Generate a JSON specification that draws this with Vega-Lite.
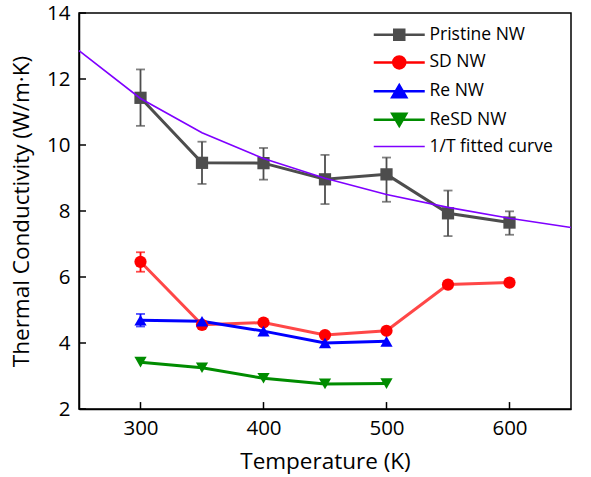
{
  "$schema": "https://vega.github.io/schema/vega-lite/v6.json",
  "width": 492,
  "height": 396,
  "autosize": {"type": "none"},
  "padding": {"left": 79, "top": 13, "right": 20, "bottom": 68},
  "background": "white",
  "config": {
    "font": "Open Sans",
    "view": {"stroke": "#000", "strokeWidth": 1.5},
    "axis": {
      "grid": false,
      "ticks": false,
      "domainColor": "#000",
      "domainWidth": 1.5,
      "labelFont": "Open Sans",
      "labelFontSize": 20.5,
      "labelColor": "#000",
      "titleFont": "Open Sans",
      "titleFontSize": 22.5,
      "titleFontWeight": "normal",
      "titleColor": "#000"
    }
  },
  "datasets": {
    "meas": [
      {"T": 300, "k": 11.43, "lo": 10.58, "hi": 12.29, "series": "Pristine NW"},
      {"T": 350, "k": 9.46, "lo": 8.82, "hi": 10.1, "series": "Pristine NW"},
      {"T": 400, "k": 9.45, "lo": 8.95, "hi": 9.91, "series": "Pristine NW"},
      {"T": 450, "k": 8.96, "lo": 8.21, "hi": 9.7, "series": "Pristine NW"},
      {"T": 500, "k": 9.11, "lo": 8.28, "hi": 9.62, "series": "Pristine NW"},
      {"T": 550, "k": 7.93, "lo": 7.24, "hi": 8.62, "series": "Pristine NW"},
      {"T": 600, "k": 7.65, "lo": 7.28, "hi": 7.99, "series": "Pristine NW"},
      {"T": 300, "k": 6.46, "lo": 6.16, "hi": 6.75, "series": "SD NW"},
      {"T": 350, "k": 4.55, "series": "SD NW"},
      {"T": 400, "k": 4.62, "series": "SD NW"},
      {"T": 450, "k": 4.24, "series": "SD NW"},
      {"T": 500, "k": 4.37, "series": "SD NW"},
      {"T": 550, "k": 5.77, "series": "SD NW"},
      {"T": 600, "k": 5.83, "series": "SD NW"},
      {"T": 300, "k": 4.69, "lo": 4.5, "hi": 4.88, "series": "Re NW"},
      {"T": 350, "k": 4.66, "series": "Re NW"},
      {"T": 400, "k": 4.36, "series": "Re NW"},
      {"T": 450, "k": 4.0, "series": "Re NW"},
      {"T": 500, "k": 4.05, "series": "Re NW"},
      {"T": 300, "k": 3.42, "series": "ReSD NW"},
      {"T": 350, "k": 3.25, "series": "ReSD NW"},
      {"T": 400, "k": 2.93, "series": "ReSD NW"},
      {"T": 450, "k": 2.76, "series": "ReSD NW"},
      {"T": 500, "k": 2.77, "series": "ReSD NW"}
    ],
    "fit": [
      {"T": 250, "k": 12.86, "series": "1/T fitted curve"},
      {"T": 300, "k": 11.41, "series": "1/T fitted curve"},
      {"T": 350, "k": 10.37, "series": "1/T fitted curve"},
      {"T": 400, "k": 9.59, "series": "1/T fitted curve"},
      {"T": 450, "k": 8.99, "series": "1/T fitted curve"},
      {"T": 500, "k": 8.5, "series": "1/T fitted curve"},
      {"T": 550, "k": 8.11, "series": "1/T fitted curve"},
      {"T": 600, "k": 7.78, "series": "1/T fitted curve"},
      {"T": 650, "k": 7.5, "series": "1/T fitted curve"}
    ],
    "xticks": [{"T": 300}, {"T": 400}, {"T": 500}, {"T": 600}],
    "yticks": [{"k": 2}, {"k": 4}, {"k": 6}, {"k": 8}, {"k": 10}, {"k": 12}, {"k": 14}]
  },
  "layer": [
    {
      "data": {"name": "meas"},
      "transform": [{"filter": "isValid(datum.lo)"}],
      "mark": {"type": "rule", "strokeWidth": 1.8},
      "encoding": {
        "x": {
          "field": "T",
          "type": "quantitative",
          "scale": {"domain": [250, 650], "nice": false, "zero": false},
          "axis": {"values": [300, 400, 500, 600], "title": "Temperature (K)", "labelPadding": 9, "titlePadding": 12}
        },
        "y": {
          "field": "lo",
          "type": "quantitative",
          "scale": {"domain": [2, 14], "nice": false, "zero": false},
          "axis": {"values": [2, 4, 6, 8, 10, 12, 14], "title": "Thermal Conductivity (W/m·K)", "labelPadding": 9, "titlePadding": 13.5}
        },
        "y2": {"field": "hi"},
        "color": {
          "field": "series",
          "type": "nominal",
          "scale": {
            "domain": ["Pristine NW", "SD NW", "Re NW", "ReSD NW", "1/T fitted curve"],
            "range": ["#4d4d4d", "#ff0000", "#0000ff", "#008c00", "#7f00ff"]
          },
          "legend": {
            "title": null,
            "orient": "none",
            "legendX": 311.5,
            "legendY": 13,
            "padding": 0,
            "symbolSize": 400,
            "labelOffset": 21.5,
            "labelFontSize": 17.5,
            "labelColor": "#000",
            "labelFont": "Open Sans",
            "rowPadding": 5.7,
            "encode": {
              "symbols": {
                "update": {
                  "shape": {"signal": "datum.value === 'Pristine NW' ? 'M-2.55,0H2.55M-0.5,-0.5H0.5V0.5H-0.5Z' : datum.value === 'SD NW' ? 'M-2.55,0H2.55M-0.6,0A0.6,0.6,0,1,0,0.6,0A0.6,0.6,0,1,0,-0.6,0Z' : datum.value === 'Re NW' ? 'M-2.55,0H2.55M0,-0.6L0.7,0.6H-0.7Z' : datum.value === 'ReSD NW' ? 'M-2.55,0H2.55M0,0.6L0.7,-0.6H-0.7Z' : 'M-2.55,0H2.55'"},
                  "fill": {"scale": "color", "field": "value"},
                  "stroke": {"scale": "color", "field": "value"},
                  "strokeWidth": {"signal": "datum.value === '1/T fitted curve' ? 1.6 : 2.5"},
                  "opacity": {"value": 1}
                }
              }
            }
          }
        }
      }
    },
    {
      "data": {"name": "meas"},
      "transform": [{"filter": "isValid(datum.lo)"}],
      "mark": {"type": "tick", "orient": "horizontal", "size": 9, "thickness": 1.8},
      "encoding": {
        "x": {"field": "T", "type": "quantitative"},
        "y": {"field": "lo", "type": "quantitative"},
        "color": {"field": "series", "type": "nominal"}
      }
    },
    {
      "data": {"name": "meas"},
      "transform": [{"filter": "isValid(datum.hi)"}],
      "mark": {"type": "tick", "orient": "horizontal", "size": 9, "thickness": 1.8},
      "encoding": {
        "x": {"field": "T", "type": "quantitative"},
        "y": {"field": "hi", "type": "quantitative"},
        "color": {"field": "series", "type": "nominal"}
      }
    },
    {
      "data": {"name": "meas"},
      "mark": {"type": "line", "strokeWidth": 3},
      "encoding": {
        "x": {"field": "T", "type": "quantitative"},
        "y": {"field": "k", "type": "quantitative"},
        "color": {"field": "series", "type": "nominal"},
        "opacity": {"condition": {"test": "datum.series === 'SD NW'", "value": 0.72}, "value": 1}
      }
    },
    {
      "data": {"name": "meas"},
      "mark": {"type": "point", "filled": true, "size": 150, "opacity": 1},
      "encoding": {
        "x": {"field": "T", "type": "quantitative"},
        "y": {"field": "k", "type": "quantitative"},
        "color": {"field": "series", "type": "nominal"},
        "shape": {
          "field": "series",
          "type": "nominal",
          "scale": {
            "domain": ["Pristine NW", "SD NW", "Re NW", "ReSD NW"],
            "range": ["square", "circle", "triangle-up", "triangle-down"]
          },
          "legend": null
        }
      }
    },
    {
      "data": {"name": "fit"},
      "mark": {"type": "line", "strokeWidth": 1.6},
      "encoding": {
        "x": {"field": "T", "type": "quantitative"},
        "y": {"field": "k", "type": "quantitative"},
        "color": {"field": "series", "type": "nominal"}
      }
    },
    {
      "data": {"name": "xticks"},
      "mark": {"type": "rule", "stroke": "#000", "color": "#000", "strokeWidth": 1.5},
      "encoding": {
        "x": {"field": "T", "type": "quantitative"},
        "y": {"datum": 2, "type": "quantitative"},
        "y2": {"datum": 2.21}
      }
    },
    {
      "data": {"name": "yticks"},
      "mark": {"type": "rule", "stroke": "#000", "color": "#000", "strokeWidth": 1.5},
      "encoding": {
        "y": {"field": "k", "type": "quantitative"},
        "x": {"datum": 250, "type": "quantitative"},
        "x2": {"datum": 255.7}
      }
    }
  ]
}
